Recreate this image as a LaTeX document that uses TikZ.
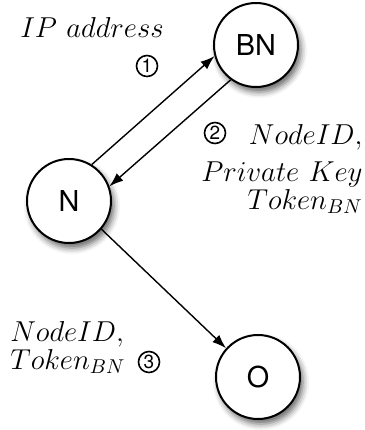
\documentclass[tikz,border=0pt]{standalone}
\usepackage{amsmath}
\usepackage{fontspec}
\newfontfamily\helv{TeX Gyre Heros}
\usetikzlibrary{arrows.meta,shadows.blur}

\begin{document}
\begin{tikzpicture}[x=0.5pt,y=-0.5pt,
      peer/.style={circle,draw,line width=1pt,fill=white,minimum size=42pt,inner sep=0pt,
                   font=\helv\Large,
                   blur shadow={shadow xshift=1.5pt,shadow yshift=-2.5pt,shadow blur radius=3pt,shadow opacity=60}},
      stepnum/.style={circle,draw,line width=0.8pt,minimum size=10.5pt,inner sep=0pt,
                      font=\helv\fontsize{9.5}{9.5}\selectfont},
      msg/.style={inner sep=0pt,font=\fontsize{14.4}{14}\selectfont},
      arrow/.style={-{Latex[length=7pt,width=5pt]},line width=0.7pt},
    ]
    \useasboundingbox (0,0) rectangle (365,430);

    % Peers
    \node[peer] (BN) at (256,45) {BN};
    \node[peer] (N) at (69,201) {N};
    \node[peer] (O) at (258,377) {O};

    % Messages
    \draw[arrow] (N.58) -- (BN.195);
    \draw[arrow] (BN.234) -- (N.20);
    \draw[arrow] (N.319) -- (O.138);

    % Labels on messages
    \node[msg,anchor=base] (ipaddr) at (92,37) {$IP\ address$};
    \node[stepnum] (s1) at (147,66) {1};

    \node[stepnum] (s2) at (215,133) {2};
    \node[msg,anchor=north east,align=right] (reply) at (363,124)
      {$NodeID,$\\[4.5pt]
       $Private\ Key$\\
       $Token_{BN}$};

    \node[msg,anchor=north west,align=left] (fwd) at (10,321)
      {$NodeID,$\\
       $Token_{BN}$};
    \node[stepnum] (s3) at (149,362) {3};

  \end{tikzpicture}
\end{document}
